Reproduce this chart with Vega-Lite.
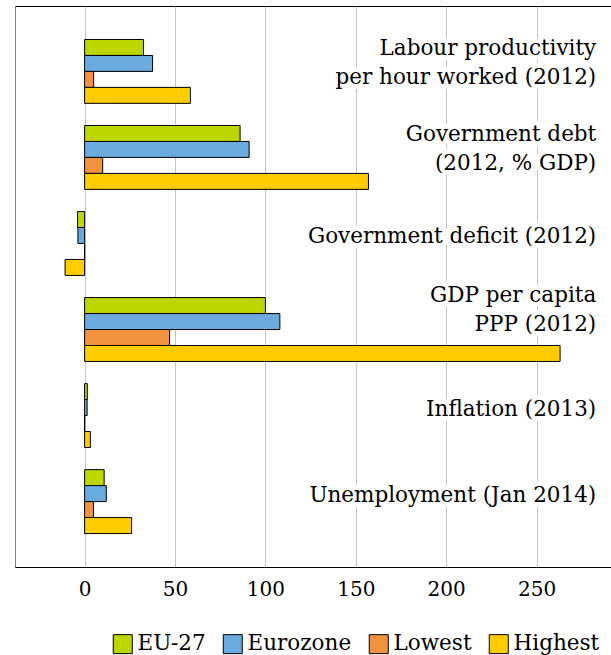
{
  "$schema": "https://vega.github.io/schema/vega-lite/v6.json",
  "width": 612,
  "height": 561,
  "padding": {"left": 15, "top": 6, "right": 0, "bottom": 0},
  "background": "white",
  "config": {
    "view": {"stroke": "#000000", "strokeWidth": 1},
    "font": "DejaVu Serif"
  },
  "datasets": {
    "bars": [
      {"indicator": "Labour productivity", "series": "EU-27", "value": 32.6},
      {"indicator": "Labour productivity", "series": "Eurozone", "value": 37.6},
      {"indicator": "Labour productivity", "series": "Lowest", "value": 5},
      {"indicator": "Labour productivity", "series": "Highest", "value": 58.5},
      {"indicator": "Government debt", "series": "EU-27", "value": 86},
      {"indicator": "Government debt", "series": "Eurozone", "value": 91},
      {"indicator": "Government debt", "series": "Lowest", "value": 10},
      {"indicator": "Government debt", "series": "Highest", "value": 157},
      {"indicator": "Government deficit", "series": "EU-27", "value": -3.9},
      {"indicator": "Government deficit", "series": "Eurozone", "value": -3.7},
      {"indicator": "Government deficit", "series": "Lowest", "value": 0},
      {"indicator": "Government deficit", "series": "Highest", "value": -10.8},
      {"indicator": "GDP per capita", "series": "EU-27", "value": 100},
      {"indicator": "GDP per capita", "series": "Eurozone", "value": 108},
      {"indicator": "GDP per capita", "series": "Lowest", "value": 47},
      {"indicator": "GDP per capita", "series": "Highest", "value": 263},
      {"indicator": "Inflation", "series": "EU-27", "value": 1.5},
      {"indicator": "Inflation", "series": "Eurozone", "value": 1.4},
      {"indicator": "Inflation", "series": "Lowest", "value": 0},
      {"indicator": "Inflation", "series": "Highest", "value": 3.2},
      {"indicator": "Unemployment", "series": "EU-27", "value": 10.8},
      {"indicator": "Unemployment", "series": "Eurozone", "value": 12},
      {"indicator": "Unemployment", "series": "Lowest", "value": 4.9},
      {"indicator": "Unemployment", "series": "Highest", "value": 26}
    ],
    "labels": [
      {"indicator": "Labour productivity", "label": "Labour productivity\nper hour worked (2012)", "group": "m"},
      {"indicator": "Government debt", "label": "Government debt\n(2012, % GDP)", "group": "m"},
      {"indicator": "Government deficit", "label": "Government deficit (2012)", "group": "a"},
      {"indicator": "GDP per capita", "label": "GDP per capita\nPPP (2012)", "group": "b"},
      {"indicator": "Inflation", "label": "Inflation (2013)", "group": "a"},
      {"indicator": "Unemployment", "label": "Unemployment (Jan 2014)", "group": "a"}
    ]
  },
  "layer": [
    {
      "data": {"name": "bars"},
      "mark": {"type": "bar", "stroke": "#000000", "strokeWidth": 1},
      "encoding": {
        "y": {
          "field": "indicator", "type": "nominal",
          "sort": ["Labour productivity", "Government debt", "Government deficit", "GDP per capita", "Inflation", "Unemployment"],
          "scale": {"paddingInner": 0.2575, "paddingOuter": 0.389},
          "axis": {"labels": false, "ticks": false, "title": null, "grid": false, "domainColor": "#808080", "domainWidth": 1}
        },
        "yOffset": {
          "field": "series", "type": "nominal",
          "sort": ["EU-27", "Eurozone", "Lowest", "Highest"],
          "scale": {"paddingInner": 0, "paddingOuter": 0}
        },
        "x": {
          "field": "value", "type": "quantitative",
          "scale": {"domain": [-38.5, 300], "nice": false, "zero": false},
          "axis": {
            "values": [0, 50, 100, 150, 200, 250],
            "title": null,
            "grid": true,
            "gridColor": "#c4c4c4",
            "gridWidth": 1,
            "ticks": false,
            "domainColor": "#000000",
            "domainWidth": 1,
            "labelFont": "DejaVu Serif",
            "labelFontSize": 20,
            "labelColor": "#000000",
            "labelPadding": 12
          }
        },
        "fill": {
          "field": "series", "type": "nominal",
          "sort": ["EU-27", "Eurozone", "Lowest", "Highest"],
          "scale": {"domain": ["EU-27", "Eurozone", "Lowest", "Highest"], "range": ["#bdd600", "#6aaadc", "#f0923e", "#ffcc00"]},
          "legend": {
            "title": null,
            "orient": "none",
            "direction": "horizontal",
            "legendX": 97,
            "legendY": 627,
            "symbolType": "square",
            "symbolSize": 361,
            "symbolStrokeColor": "#000000",
            "symbolStrokeWidth": 1,
            "symbolOpacity": 1,
            "labelFont": "DejaVu Serif",
            "labelFontSize": 21.5,
            "labelColor": "#000000",
            "labelOffset": 4,
            "columnPadding": 15,
            "padding": 0
          }
        }
      }
    },
    {
      "data": {"name": "labels"},
      "transform": [{"filter": "datum.group === 'a'"}],
      "mark": {"type": "text", "align": "right", "baseline": "middle", "lineBreak": "\n", "lineHeight": 29, "fontSize": 21.5, "font": "DejaVu Serif", "dy": -6, "stroke": "#ffffff", "strokeWidth": 10, "strokeJoin": "round", "fill": "#ffffff"},
      "encoding": {
        "y": {"field": "indicator", "type": "nominal", "sort": ["Labour productivity", "Government debt", "Government deficit", "GDP per capita", "Inflation", "Unemployment"]},
        "x": {"datum": 283},
        "text": {"field": "label"}
      }
    },
    {
      "data": {"name": "labels"},
      "transform": [{"filter": "datum.group === 'm'"}],
      "mark": {"type": "text", "align": "right", "baseline": "middle", "lineBreak": "\n", "lineHeight": 29, "fontSize": 21.5, "font": "DejaVu Serif", "dy": -22, "stroke": "#ffffff", "strokeWidth": 10, "strokeJoin": "round", "fill": "#ffffff"},
      "encoding": {
        "y": {"field": "indicator", "type": "nominal", "sort": ["Labour productivity", "Government debt", "Government deficit", "GDP per capita", "Inflation", "Unemployment"]},
        "x": {"datum": 283},
        "text": {"field": "label"}
      }
    },
    {
      "data": {"name": "labels"},
      "transform": [{"filter": "datum.group === 'b'"}],
      "mark": {"type": "text", "align": "right", "baseline": "middle", "lineBreak": "\n", "lineHeight": 29, "fontSize": 21.5, "font": "DejaVu Serif", "dy": -34, "stroke": "#ffffff", "strokeWidth": 10, "strokeJoin": "round", "fill": "#ffffff"},
      "encoding": {
        "y": {"field": "indicator", "type": "nominal", "sort": ["Labour productivity", "Government debt", "Government deficit", "GDP per capita", "Inflation", "Unemployment"]},
        "x": {"datum": 283},
        "text": {"field": "label"}
      }
    },
    {
      "data": {"name": "labels"},
      "transform": [{"filter": "datum.group === 'a'"}],
      "mark": {"type": "text", "align": "right", "baseline": "middle", "lineBreak": "\n", "lineHeight": 29, "fontSize": 21.5, "font": "DejaVu Serif", "dy": -6, "fill": "#000000"},
      "encoding": {
        "y": {"field": "indicator", "type": "nominal", "sort": ["Labour productivity", "Government debt", "Government deficit", "GDP per capita", "Inflation", "Unemployment"]},
        "x": {"datum": 283},
        "text": {"field": "label"}
      }
    },
    {
      "data": {"name": "labels"},
      "transform": [{"filter": "datum.group === 'm'"}],
      "mark": {"type": "text", "align": "right", "baseline": "middle", "lineBreak": "\n", "lineHeight": 29, "fontSize": 21.5, "font": "DejaVu Serif", "dy": -22, "fill": "#000000"},
      "encoding": {
        "y": {"field": "indicator", "type": "nominal", "sort": ["Labour productivity", "Government debt", "Government deficit", "GDP per capita", "Inflation", "Unemployment"]},
        "x": {"datum": 283},
        "text": {"field": "label"}
      }
    },
    {
      "data": {"name": "labels"},
      "transform": [{"filter": "datum.group === 'b'"}],
      "mark": {"type": "text", "align": "right", "baseline": "middle", "lineBreak": "\n", "lineHeight": 29, "fontSize": 21.5, "font": "DejaVu Serif", "dy": -34, "fill": "#000000"},
      "encoding": {
        "y": {"field": "indicator", "type": "nominal", "sort": ["Labour productivity", "Government debt", "Government deficit", "GDP per capita", "Inflation", "Unemployment"]},
        "x": {"datum": 283},
        "text": {"field": "label"}
      }
    }
  ]
}
